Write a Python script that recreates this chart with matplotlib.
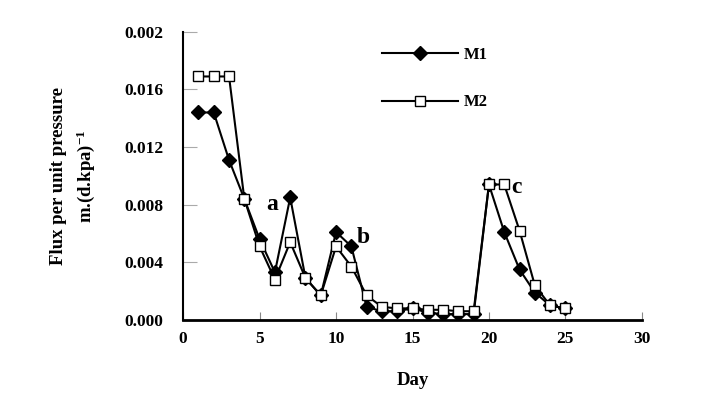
import matplotlib
matplotlib.use("Agg")
import matplotlib.pyplot as plt

days = list(range(1, 26))
m1 = [0.0144, 0.0144, 0.0111, 0.0084, 0.0056, 0.0033, 0.0085, 0.0029, 0.0017, 0.0061,
      0.0051, 0.0009, 0.0006, 0.0006, 0.0008, 0.0005, 0.0004, 0.0004, 0.0004, 0.0094,
      0.0061, 0.0035, 0.0019, 0.0010, 0.0008]
m2 = [0.0169, 0.0169, 0.0169, 0.0084, 0.0051, 0.0028, 0.0054, 0.0029, 0.0017, 0.0051,
      0.0037, 0.0017, 0.0009, 0.0008, 0.0008, 0.0007, 0.0007, 0.0006, 0.0006, 0.0094,
      0.0094, 0.0062, 0.0024, 0.0010, 0.0008]
yticks = [0.000, 0.004, 0.008, 0.012, 0.016, 0.020]
ytick_labels = ["0.000", "0.004", "0.008", "0.012", "0.016", "0.002"]
xticks = [0, 5, 10, 15, 20, 25, 30]
annotations = [("a", 5.8, 0.0080), ("b", 11.8, 0.0057), ("c", 21.8, 0.0092)]

plt.rcParams['font.family'] = ['Liberation Serif', 'DejaVu Serif']
plt.rcParams['font.weight'] = 'bold'
plt.rcParams['mathtext.fontset'] = 'custom'
plt.rcParams['mathtext.rm'] = 'Liberation Serif:bold'
plt.rcParams['mathtext.bf'] = 'Liberation Serif:bold'
plt.rcParams['mathtext.default'] = 'bf'

fig = plt.figure(figsize=(7.1, 4.08), dpi=100)
ax = fig.add_axes([0.258, 0.216, 0.646, 0.706])

ax.plot(days, m1, color='black', lw=1.5, marker='D', ms=7, mfc='black', mec='black', label='M1')
ax.plot(days, m2, color='black', lw=1.5, marker='s', ms=7, mfc='white', mec='black', label='M2')

for t, x, y in annotations:
    ax.text(x, y, t, fontsize=17, fontweight='bold', ha='center', va='center')

ax.set_xlim(0, 30)
ax.set_ylim(0, 0.020)
ax.set_xticks(xticks)
ax.set_xticklabels([str(v) for v in xticks])
ax.set_yticks(yticks)
ax.set_yticklabels(ytick_labels)
ax.tick_params(axis='x', direction='in', length=6, color='#888888', labelsize=12.5, pad=8)
ax.tick_params(axis='y', direction='in', length=10, color='#aaaaaa', labelsize=12.5, pad=14)
for lab in ax.get_xticklabels() + ax.get_yticklabels():
    lab.set_fontweight('bold')

for s in ['top', 'right']:
    ax.spines[s].set_visible(False)
ax.spines['left'].set_linewidth(1.5)
ax.spines['bottom'].set_linewidth(2)

ax.set_xlabel('Day', fontsize=13.5, fontweight='bold', labelpad=18)
ax.set_ylabel('Flux per unit pressure\nm.(d.kpa)$^{-1}$', fontsize=13.5, fontweight='bold',
              labelpad=20, linespacing=1.45)

leg = ax.legend(loc='upper left', bbox_to_anchor=(0.40, 1.0), frameon=False, fontsize=12,
                handlelength=4.6, labelspacing=1.9, handletextpad=0.3)
for t in leg.get_texts():
    t.set_fontweight('bold')

fig.savefig('out.png', dpi=100)
